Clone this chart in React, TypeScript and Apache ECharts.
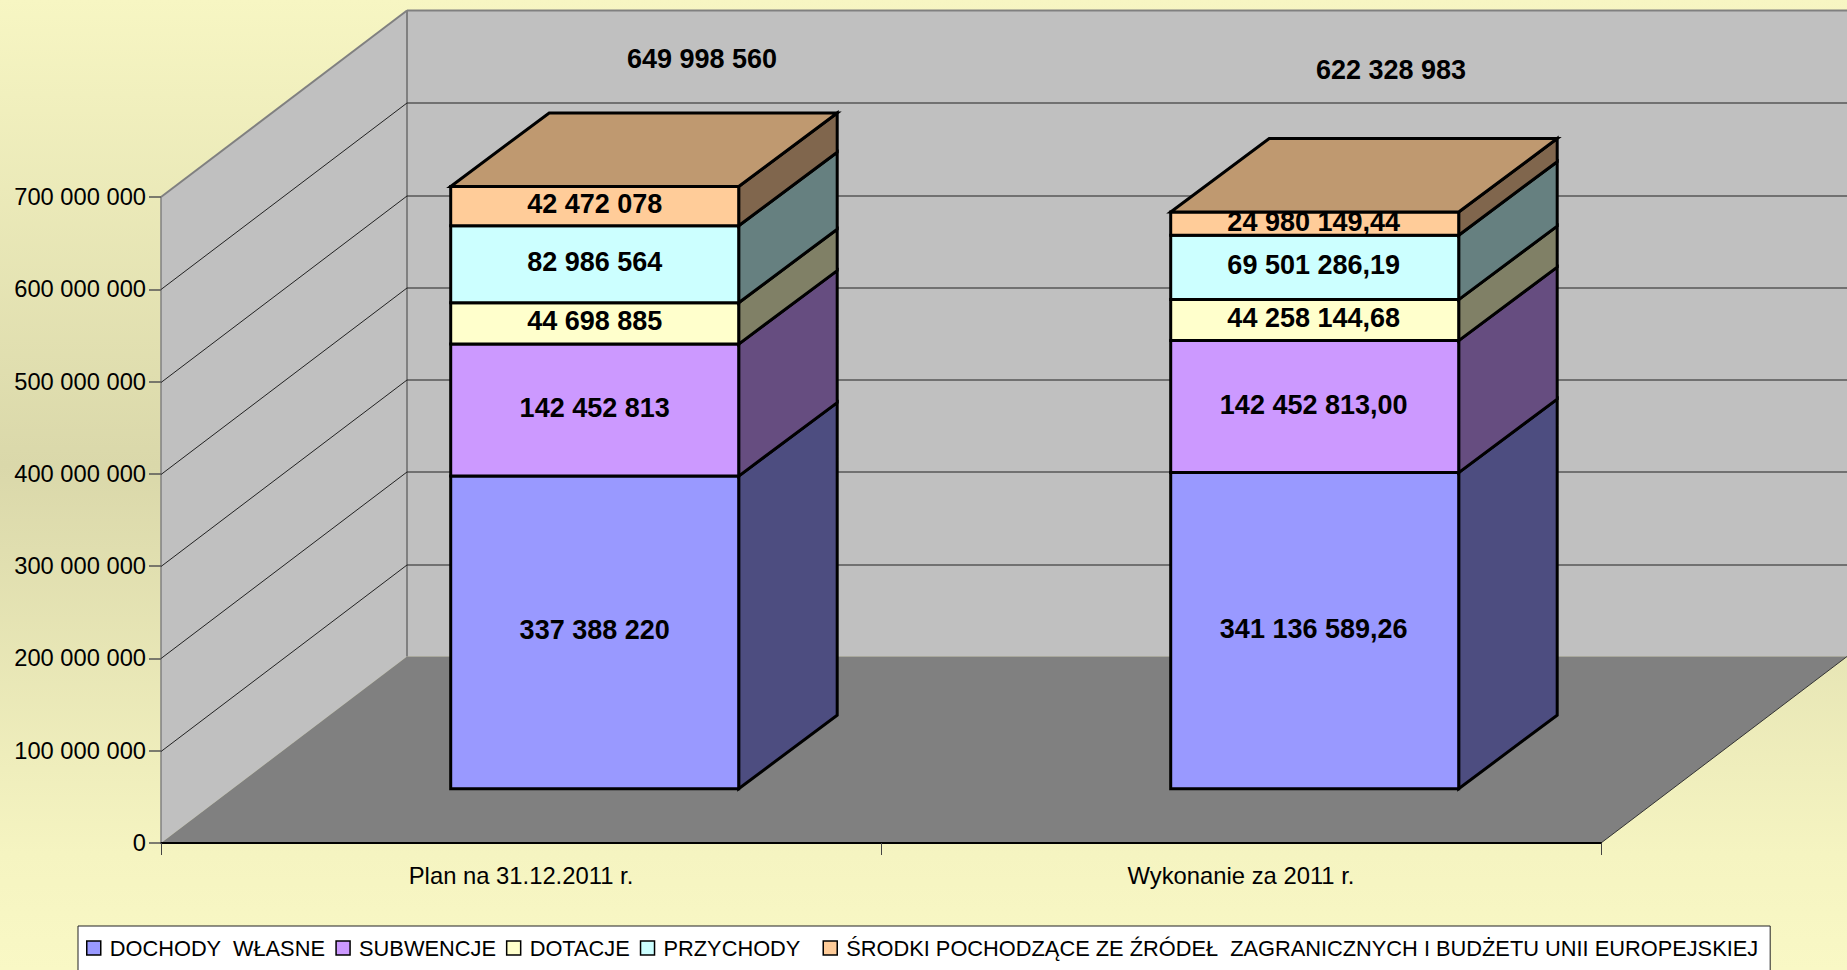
import React, { useEffect, useRef } from "react";
import * as echarts from "echarts";

const categories = ["Plan na 31.12.2011 r.", "Wykonanie za 2011 r."];
const seriesNames = [
  "DOCHODY  WŁASNE",
  "SUBWENCJE",
  "DOTACJE",
  "PRZYCHODY  ",
  "ŚRODKI POCHODZĄCE ZE ŹRÓDEŁ  ZAGRANICZNYCH I BUDŻETU UNII EUROPEJSKIEJ",
];
const dochody = [337388220, 341136589.26];
const subwencje = [142452813, 142452813.0];
const dotacje = [44698885, 44258144.68];
const przychody = [82986564, 69501286.19];
const srodki = [42472078, 24980149.44];
const totals = [649998560, 622328983];
const axisTicks = [0, 100000000, 200000000, 300000000, 400000000, 500000000, 600000000, 700000000];

const layers = [dochody, subwencje, dotacje, przychody, srodki];
const frontColors = ["#9999FF", "#CC99FF", "#FFFFCC", "#CCFFFF", "#FFCC99"];
const sideColors = ["#4D4D80", "#664D80", "#808066", "#668080", "#80664D"];
const topColor = "#BF9970";
const FONT = "'Liberation Sans', Arial, sans-serif";

const fmtInt = (v: number) => String(Math.round(v)).replace(/\B(?=(\d{3})+(?!\d))/g, " ");
const fmtDec = (v: number) => {
  const [a, b] = v.toFixed(2).split(".");
  return a.replace(/\B(?=(\d{3})+(?!\d))/g, " ") + "," + b;
};

const WALL_DX = 246;
const WALL_DY = 186.5;
const BAR_DX = 98.5;
const BAR_DY = 73.5;

const poly = (points: number[][], style: any) => ({
  type: "polygon",
  shape: { points },
  style,
  silent: true,
});
const seg = (a: number[], b: number[], stroke: string, lineWidth: number) => ({
  type: "line",
  shape: { x1: a[0], y1: a[1], x2: b[0], y2: b[1] },
  style: { stroke, lineWidth, fill: "none" },
  silent: true,
});

export default function App() {
  const ref = useRef<HTMLDivElement>(null);
  useEffect(() => {
    document.body.style.margin = "0";
    document.body.style.overflow = "hidden";
    const chart = echarts.init(ref.current!, undefined, { renderer: "svg" });

    const wallSeries = {
      type: "custom",
      silent: true,
      xAxisIndex: 0,
      yAxisIndex: 0,
      z: 1,
      clip: false,
      data: axisTicks.map((t) => [0, t]),
      encode: { x: 0, y: 1 },
      renderItem: (params: any, api: any) => {
        const cs = params.coordSys;
        const x0 = cs.x;
        const x1 = cs.x + cs.width;
        const yTop = cs.y;
        const yBot = cs.y + cs.height;
        const children: any[] = [];
        if (params.dataIndex === 0) {
          children.push(
            poly([[x0, yBot], [x0, yTop], [x0 + WALL_DX, yTop - WALL_DY], [x0 + WALL_DX, yBot - WALL_DY]], { fill: "#C0C0C0" }),
            poly([[x0 + WALL_DX, yTop - WALL_DY], [x1 + WALL_DX, yTop - WALL_DY], [x1 + WALL_DX, yBot - WALL_DY], [x0 + WALL_DX, yBot - WALL_DY]], { fill: "#C0C0C0" }),
            poly([[x0, yBot], [x1, yBot], [x1 + WALL_DX, yBot - WALL_DY], [x0 + WALL_DX, yBot - WALL_DY]], { fill: "#808080" }),
            seg([x0, yTop], [x0, yBot], "#808080", 1.5),
            seg([x0, yTop], [x0 + WALL_DX, yTop - WALL_DY], "#808080", 2),
            seg([x0 + WALL_DX, yTop - WALL_DY], [x1 + WALL_DX, yTop - WALL_DY], "#808080", 2),
            seg([x0 + WALL_DX, yTop - WALL_DY], [x0 + WALL_DX, yBot - WALL_DY], "#808080", 2),
            seg([x1, yBot], [x1 + WALL_DX, yBot - WALL_DY], "#333333", 1)
          );
        }
        const v = api.value(1);
        if (v > 0 && v < 700000000) {
          const p = api.coord([0, v]);
          const y = Math.round(p[1]) + 0.5;
          children.push(
            seg([x0, y], [x0 + WALL_DX, y - WALL_DY], "#222222", 1),
            seg([x0 + WALL_DX, y - WALL_DY], [x1 + WALL_DX, y - WALL_DY], "#222222", 1)
          );
        }
        return { type: "group", children };
      },
    };

    const barSeries = layers.map((values, li) => ({
      type: "custom",
      name: seriesNames[li],
      xAxisIndex: 1,
      yAxisIndex: 1,
      z: 3,
      clip: false,
      silent: true,
      itemStyle: { color: frontColors[li] },
      data: values.map((v, ci) => {
        let start = 0;
        for (let k = 0; k < li; k++) start += layers[k][ci];
        return [ci, start, start + v];
      }),
      encode: { x: 0, y: [1, 2] },
      renderItem: (params: any, api: any) => {
        const ci = api.value(0);
        const start = api.value(1);
        const end = api.value(2);
        const c0 = api.coord([ci, start]);
        const c1 = api.coord([ci, end]);
        const w = api.size([1, 0])[0] * 0.4;
        const xl = c0[0] - w / 2;
        const xr = c0[0] + w / 2;
        const yb = c0[1];
        const yt = c1[1];
        const border = { stroke: "#000", lineWidth: 3, lineJoin: "miter" };
        const children: any[] = [
          poly([[xr, yt], [xr + BAR_DX, yt - BAR_DY], [xr + BAR_DX, yb - BAR_DY], [xr, yb]], { fill: sideColors[li], ...border }),
          poly([[xl, yb], [xl, yt], [xr, yt], [xr, yb]], { fill: frontColors[li], ...border }),
        ];
        if (li === layers.length - 1) {
          children.push(
            poly([[xl, yt], [xl + BAR_DX, yt - BAR_DY], [xr + BAR_DX, yt - BAR_DY], [xr, yt]], { fill: topColor, ...border })
          );
        }
        const raw = layers[li][ci];
        children.push({
          type: "text",
          silent: true,
          x: c0[0] - (ci === 0 ? 0 : 1),
          y: (yb + yt) / 2 - 2,
          style: {
            text: ci === 0 ? fmtInt(raw) : fmtDec(raw),
            font: `bold 27px ${FONT}`,
            fill: "#000",
            align: "center",
            verticalAlign: "middle",
          },
        });
        return { type: "group", children };
      },
    }));

    chart.setOption({
      animation: false,
      backgroundColor: {
        type: "linear",
        x: 0,
        y: 0,
        x2: 0,
        y2: 1,
        colorStops: [
          { offset: 0, color: "#F7F6C3" },
          { offset: 0.48, color: "#DAD8AA" },
          { offset: 0.88, color: "#F5F4C1" },
          { offset: 1, color: "#F9F8C5" },
        ],
      },
      grid: [
        { left: 161, top: 197, width: 1440, height: 646 },
        { left: 234.7, top: 140.1, width: 720 * 2, height: 648.6 },
      ],
      xAxis: [
        {
          type: "category",
          gridIndex: 0,
          data: categories,
          z: 5,
          axisLine: { show: true, lineStyle: { color: "#000", width: 2 } },
          axisTick: { show: true, length: 12, alignWithLabel: false, lineStyle: { color: "#444", width: 1 } },
          axisLabel: { color: "#000", fontFamily: FONT, fontSize: 23.8, margin: 20 },
        },
        { type: "category", gridIndex: 1, data: categories, show: false },
      ],
      yAxis: [
        {
          type: "value",
          gridIndex: 0,
          min: 0,
          max: 700000000,
          interval: 100000000,
          z: 5,
          axisLine: { show: false },
          axisTick: { show: true, length: 12, lineStyle: { color: "#555", width: 1.5 } },
          splitLine: { show: false },
          axisLabel: {
            color: "#000",
            fontFamily: FONT,
            fontSize: 23.7,
            margin: 15,
            padding: [0, 0, 4, 0],
            formatter: (v: number) => fmtInt(v),
          },
        },
        {
          type: "value",
          gridIndex: 1,
          min: 0,
          max: 700000000,
          show: false,
          splitLine: { show: false },
        },
      ],
      legend: {
        show: true,
        left: 78,
        top: 926,
        icon: "rect",
        orient: "horizontal",
        itemWidth: 14,
        itemHeight: 14,
        itemGap: 10,
        padding: [11, 12, 40, 8],
        backgroundColor: "#FFFFFF",
        borderColor: "#222",
        borderWidth: 1,
        borderRadius: 0,
        selectedMode: false,
        textStyle: { color: "#000", fontFamily: FONT, fontSize: 21.8, padding: [0, 0, 5, 4] },
        data: seriesNames.map((name, i) => ({
          name,
          icon: "rect",
          itemStyle: { color: frontColors[i], borderColor: "#000", borderWidth: 1.5 },
        })),
      },
      graphic: [
        {
          type: "text",
          x: 702,
          y: 59,
          z: 10,
          silent: true,
          style: { text: fmtInt(totals[0]), font: `bold 27px ${FONT}`, fill: "#000", align: "center", verticalAlign: "middle" },
        },
        {
          type: "text",
          x: 1391,
          y: 70,
          z: 10,
          silent: true,
          style: { text: fmtInt(totals[1]), font: `bold 27px ${FONT}`, fill: "#000", align: "center", verticalAlign: "middle" },
        },
      ],
      series: [wallSeries, ...barSeries],
    });
    return () => chart.dispose();
  }, []);
  return <div ref={ref} style={{ width: 1847, height: 970 }} />;
}
